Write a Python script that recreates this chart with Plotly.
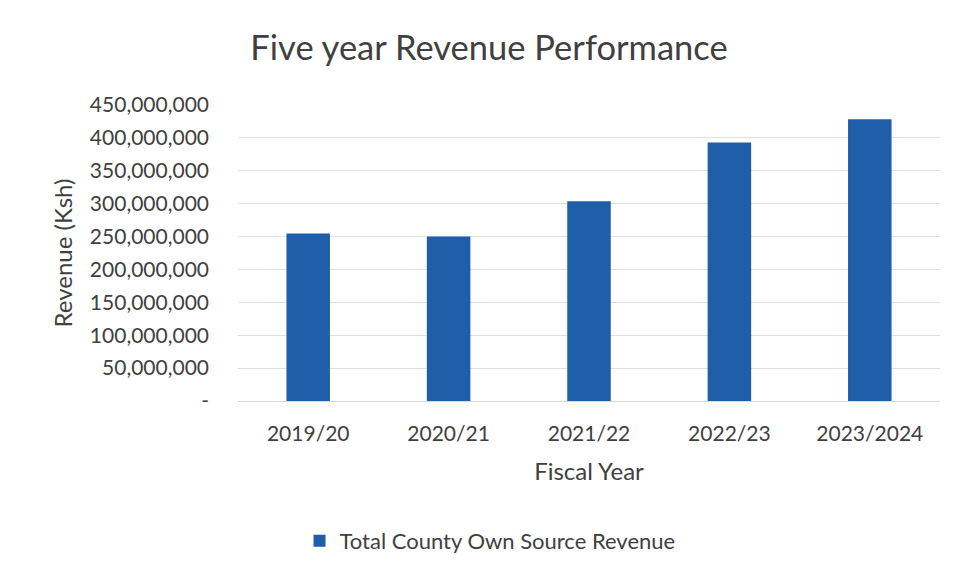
import plotly.graph_objects as go

categories = ["2019/20", "2020/21", "2021/22", "2022/23", "2023/2024"]
revenue = [254_500_000, 250_000_000, 303_800_000, 393_000_000, 428_500_000]
tick_vals = [0, 50e6, 100e6, 150e6, 200e6, 250e6, 300e6, 350e6, 400e6, 450e6]
tick_text = ["-", "50,000,000", "100,000,000", "150,000,000", "200,000,000",
             "250,000,000", "300,000,000", "350,000,000", "400,000,000", "450,000,000"]

FONT = "Lato, Open Sans, sans-serif"
TXT = "#404040"

fig = go.Figure()
fig.add_trace(go.Bar(
    x=categories, y=revenue, name="Total County Own Source Revenue",
    marker=dict(color="#1F5FAA", line=dict(width=0)),
))

fig.update_layout(
    width=955, height=580,
    paper_bgcolor="white", plot_bgcolor="white",
    margin=dict(l=230, r=23, t=97, b=187, autoexpand=False),
    bargap=0.69,
    font=dict(family=FONT, color=TXT, size=21),
    title=dict(text="Five year Revenue Performance", x=0.5037, xanchor="center",
               xref="container", y=0.931, yref="container", yanchor="middle",
               font=dict(size=34.5, color=TXT, family=FONT)),
    showlegend=True,
    legend=dict(orientation="h", x=0.359, xanchor="center", y=-0.473, yanchor="middle",
                font=dict(size=22, color=TXT, family=FONT)),
)
fig.update_xaxes(
    showgrid=False, showline=True, linecolor="#d9d9d9", linewidth=1,
    ticks="", ticklabelstandoff=14,
    tickfont=dict(size=21, color=TXT),
    title=dict(text="Fiscal Year", standoff=18, font=dict(size=24, color=TXT)),
)
fig.update_yaxes(
    range=[0, 450e6], tickvals=tick_vals, ticktext=tick_text,
    showgrid=True, gridcolor="#e0e0e0", gridwidth=1, zeroline=False,
    ticks="", ticklabelstandoff=28,
    tickfont=dict(size=21, color=TXT),
    title=dict(text="Revenue (Ksh)", standoff=10, font=dict(size=24, color=TXT)),
)

fig.write_html("out.html")
